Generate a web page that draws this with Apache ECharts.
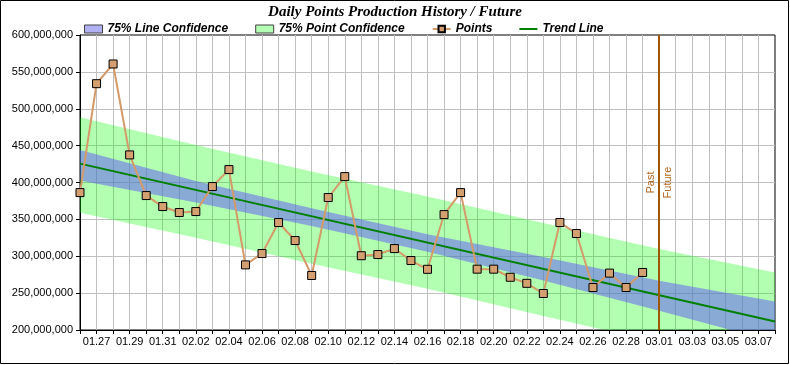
<!DOCTYPE html>
<html><head><meta charset="utf-8">
<script src="https://cdn.jsdelivr.net/npm/echarts@6/dist/echarts.min.js"></script>
<style>html,body{margin:0;padding:0;background:#fff}#c{width:790px;height:365px}</style>
</head><body><div id="c"></div>
<script>
const titleText = 'Daily Points Production History / Future';
const categories = ['01.26','01.27','01.28','01.29','01.30','01.31',
  '02.01','02.02','02.03','02.04','02.05','02.06','02.07','02.08','02.09','02.10',
  '02.11','02.12','02.13','02.14','02.15','02.16','02.17','02.18','02.19','02.20',
  '02.21','02.22','02.23','02.24','02.25','02.26','02.27','02.28','02.29',
  '03.01','03.02','03.03','03.04','03.05','03.06','03.07','03.08'];
const points = [386300000, 534000000, 560700000, 437400000, 382300000, 367400000, 359300000,
  360600000, 394500000, 417500000, 288300000, 303700000, 345700000, 321300000, 273900000,
  379600000, 408000000, 300700000, 302300000, 310400000, 294200000, 282300000, 356500000,
  386300000, 282500000, 282500000, 271500000, 263300000, 249500000, 345700000, 330800000,
  257600000, 277100000, 257600000, 278000000];
const trendDates = ['01.26','03.08'];
const trendValues = [425600000, 211500000];
const bandDates = ['01.26','02.02','02.09','02.16','02.23','03.01','03.08'];
const lineConfUpper = [444000000, 402000000, 365000000, 330000000, 299000000, 266700000, 238600000];
const lineConfLower = [402600000, 373000000, 341000000, 306000000, 267000000, 226000000, 184000000];
const pointConfUpper = [488500000, 451000000, 415000000, 381000000, 345000000, 310000000, 278000000];
const pointConfLower = [359000000, 325000000, 290000000, 256000000, 219000000, 183000000, 145000000];
const pastFutureDate = '03.01';
const yMin = 200000000, yMax = 600000000, yStep = 50000000;

const FONT = '"Liberation Sans", Arial, sans-serif';
function fmt(v){ return String(v).replace(/\B(?=(\d{3})+(?!\d))/g, ','); }

function band(name, upper, lower, fill) {
  return {
    type: 'custom', name: name, coordinateSystem: 'cartesian2d', silent: true, z: 1,
    data: bandDates.map((d, i) => [categories.indexOf(d), upper[i], lower[i]]),
    encode: { x: 0, y: [1, 2] },
    itemStyle: { color: fill },
    renderItem: function (params, api) {
      if (params.dataIndex !== 0) return null;
      const top = [], bot = [];
      for (let i = 0; i < bandDates.length; i++) {
        const xi = categories.indexOf(bandDates[i]);
        top.push(api.coord([xi, upper[i]]));
        bot.push(api.coord([xi, lower[i]]));
      }
      const cs = params.coordSys;
      return {
        type: 'polygon',
        shape: { points: top.concat(bot.reverse()) },
        style: { fill: fill, stroke: null },
        clipPath: { type: 'rect', shape: { x: cs.x, y: cs.y, width: cs.width, height: cs.height } }
      };
    }
  };
}

const chart = echarts.init(document.getElementById('c'), null, { renderer: 'canvas' });
const pfIdx = categories.indexOf(pastFutureDate);
chart.setOption({
  animation: false,
  backgroundColor: '#fff',
  title: {
    text: titleText, left: 'center', top: 0,
    textStyle: { fontFamily: '"Liberation Serif", "Times New Roman", serif', fontStyle: 'italic', fontWeight: 'bold', fontSize: 15, color: '#000' }
  },
  legend: {
    left: 79, top: 18, itemGap: 27, itemWidth: 18, itemHeight: 8,
    selectedMode: false,
    textStyle: { fontFamily: FONT, fontStyle: 'italic', fontWeight: 'bold', fontSize: 12, color: '#000' },
    data: [
      { name: '75% Line Confidence', icon: 'rect', itemStyle: { color: '#b0b0f2', borderColor: '#404040', borderWidth: 1 } },
      { name: '75% Point Confidence', icon: 'rect', itemStyle: { color: '#b3ffb3', borderColor: '#404040', borderWidth: 1 } },
      { name: 'Points' },
      { name: 'Trend Line', icon: 'path://M0,0 H18 V2 H0 Z', itemStyle: { color: '#008000', borderWidth: 0 } }
    ]
  },
  grid: { left: 80, right: 15, top: 35, bottom: 35, show: true, borderColor: '#000', borderWidth: 1, backgroundColor: 'transparent' },
  xAxis: {
    type: 'category', data: categories, boundaryGap: false,
    axisLine: { lineStyle: { color: '#000', width: 1 } },
    axisTick: { show: true, interval: 0, length: 4, lineStyle: { color: '#000' } },
    axisLabel: { interval: function (i) { return i % 2 === 1; }, margin: 6, fontFamily: FONT, fontSize: 11, color: '#000' },
    splitLine: { show: true, interval: 0, showMinLine: false, showMaxLine: false, lineStyle: { color: '#c0c0c0', width: 1 } }
  },
  yAxis: {
    type: 'value', min: yMin, max: yMax, interval: yStep,
    axisLine: { show: true, lineStyle: { color: '#000', width: 1 } },
    axisTick: { show: true, length: 4, lineStyle: { color: '#000' } },
    axisLabel: { formatter: fmt, margin: 7, fontFamily: FONT, fontSize: 11, color: '#000' },
    splitLine: { show: true, showMinLine: false, showMaxLine: false, lineStyle: { color: '#c0c0c0', width: 1 } }
  },
  graphic: [{
    type: 'rect', z: 100, silent: true,
    shape: { x: 0.5, y: 0.5, width: 788, height: 363 },
    style: { fill: null, stroke: '#000', lineWidth: 1 }
  }],
  series: [
    band('75% Point Confidence', pointConfUpper, pointConfLower, 'rgba(0,255,0,0.3)'),
    band('75% Line Confidence', lineConfUpper, lineConfLower, 'rgba(98,85,250,0.5)'),
    {
      type: 'line', name: 'Trend Line', z: 3, silent: true,
      data: trendDates.map((d, i) => [categories.indexOf(d), trendValues[i]]),
      symbol: 'none', showSymbol: false,
      itemStyle: { color: '#008000' },
      lineStyle: { color: '#008000', width: 2 }
    },
    {
      type: 'line', name: 'Points', z: 4, silent: true,
      data: points,
      symbol: 'rect', symbolSize: 8, showSymbol: true,
      itemStyle: { color: '#d4a070', borderColor: '#000', borderWidth: 1 },
      lineStyle: { color: '#d49a68', width: 2 },
      markLine: {
        silent: true, symbol: ['none', 'none'], animation: false,
        lineStyle: { color: '#a05800', width: 2, type: 'solid' },
        label: { color: '#b0661c', fontFamily: FONT, fontSize: 11, distance: 3 },
        data: [
          { xAxis: pfIdx, label: { formatter: 'Past', position: 'insideMiddleTop' } },
          { xAxis: pfIdx, label: { formatter: 'Future', position: 'insideMiddleBottom' } }
        ]
      }
    }
  ]
});
</script>
</body></html>
